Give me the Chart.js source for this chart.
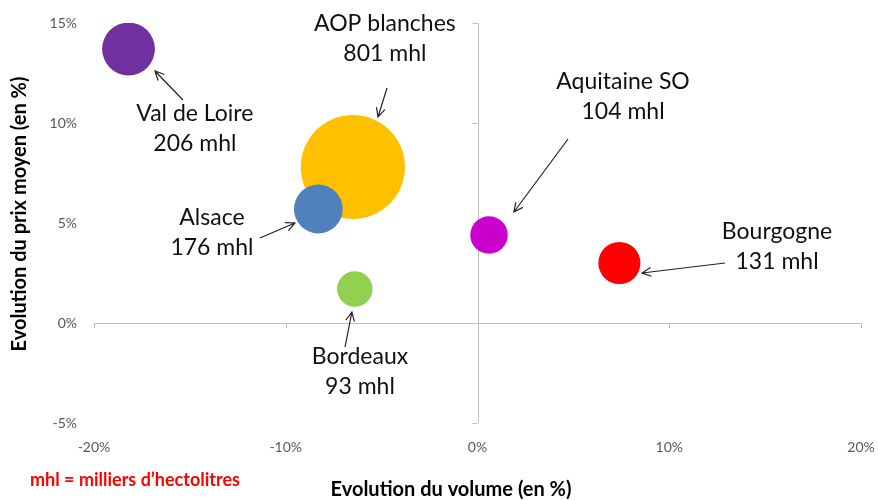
<!DOCTYPE html>
<html>
<head>
<meta charset="utf-8">
<script src="https://cdn.jsdelivr.net/npm/chart.js@4.4.0/dist/chart.umd.min.js"></script>
<style>
  html, body { margin: 0; padding: 0; background: #fff; }
  #wrap { width: 878px; height: 500px; }
</style>
</head>
<body>
<div id="wrap"><canvas id="myChart" width="878" height="500"></canvas></div>
<script>
const regions = ['AOP blanches', 'Val de Loire', 'Alsace', 'Bourgogne', 'Aquitaine SO', 'Bordeaux'];
const volumeChange = [-6.5, -18.2, -8.3, 7.4, 0.6, -6.4];
const priceChange = [7.8, 13.7, 5.7, 3.0, 4.4, 1.7];
const volumes = [801, 206, 176, 131, 104, 93];
const colors = ['#ffc000', '#7030a0', '#4f81bd', '#ff0000', '#cc00cc', '#92d050'];
const xTicks = [-20, -10, 0, 10, 20];
const yTicks = [-5, 0, 5, 10, 15];

// callout placement in axis units: first text line centre, arrow start -> arrow tip
const callouts = [
    { text: [-4.83, 14.95], from: [-4.72, 11.75], to: [-5.19, 10.3] },
    { text: [-14.74, 10.45], from: [-15.36, 11.15], to: [-16.82, 12.6] },
    { text: [-13.85, 5.25], from: [-11.35, 4.25], to: [-9.52, 5.0] },
    { text: [15.62, 4.55], from: [12.91, 3.0], to: [8.58, 2.5] },
    { text: [7.59, 12.05], from: [4.72, 9.2], to: [1.9, 5.55] },
    { text: [-6.13, -1.7], from: [-6.91, -1.2], to: [-6.55, 0.55] }
];

const bubbleScale = 1.84; // px of radius per sqrt(mhl)

const points = regions.map((name, i) => ({
    x: volumeChange[i],
    y: priceChange[i],
    r: bubbleScale * Math.sqrt(volumes[i])
}));

const FONT = 'Lato, "Open Sans", sans-serif';

function arrow(ctx, x1, y1, x2, y2) {
    const a = Math.atan2(y2 - y1, x2 - x1);
    const len = 10, spread = 0.45;
    ctx.beginPath();
    ctx.moveTo(x1, y1);
    ctx.lineTo(x2, y2);
    ctx.moveTo(x2 - len * Math.cos(a - spread), y2 - len * Math.sin(a - spread));
    ctx.lineTo(x2, y2);
    ctx.lineTo(x2 - len * Math.cos(a + spread), y2 - len * Math.sin(a + spread));
    ctx.stroke();
}

const extras = {
    id: 'extras',
    beforeDatasetsDraw(chart) {
        const ctx = chart.ctx;
        const xs = chart.scales.x, ys = chart.scales.y;
        const x0 = xs.getPixelForValue(0), y0 = ys.getPixelForValue(0);
        ctx.save();
        ctx.strokeStyle = '#bfbfbf';
        ctx.lineWidth = 1;
        ctx.beginPath();
        ctx.moveTo(xs.getPixelForValue(-20), Math.round(y0) + 0.5);
        ctx.lineTo(xs.getPixelForValue(20), Math.round(y0) + 0.5);
        ctx.moveTo(Math.round(x0) + 0.5, ys.top);
        ctx.lineTo(Math.round(x0) + 0.5, ys.bottom);
        xTicks.forEach(v => {
            const px = Math.round(xs.getPixelForValue(v)) + 0.5;
            ctx.moveTo(px, y0);
            ctx.lineTo(px, y0 + 5);
        });
        yTicks.forEach(v => {
            const py = Math.round(ys.getPixelForValue(v)) + 0.5;
            ctx.moveTo(x0 - 5, py);
            ctx.lineTo(x0, py);
        });
        ctx.stroke();
        ctx.restore();
    },
    afterDraw(chart) {
        const ctx = chart.ctx;
        const xs = chart.scales.x, ys = chart.scales.y;
        ctx.save();
        // callouts
        ctx.fillStyle = '#111';
        ctx.strokeStyle = '#222';
        ctx.lineWidth = 1.2;
        ctx.font = '23px ' + FONT;
        ctx.textAlign = 'center';
        ctx.textBaseline = 'middle';
        callouts.forEach((c, i) => {
            const tx = xs.getPixelForValue(c.text[0]);
            const ty = ys.getPixelForValue(c.text[1]);
            ctx.fillText(regions[i], tx, ty);
            ctx.fillText(volumes[i] + ' mhl', tx, ty + 30);
            arrow(ctx,
                xs.getPixelForValue(c.from[0]), ys.getPixelForValue(c.from[1]),
                xs.getPixelForValue(c.to[0]), ys.getPixelForValue(c.to[1]));
        });
        // axis titles
        ctx.fillStyle = '#000';
        ctx.font = 'bold 20px ' + FONT;
        ctx.fillText('Evolution du volume (en %)', 451, 490);
        ctx.save();
        ctx.translate(20, 214);
        ctx.rotate(-Math.PI / 2);
        ctx.fillText('Evolution du prix moyen (en %)', 0, 0);
        ctx.restore();
        // footnote
        ctx.fillStyle = '#ff0000';
        ctx.font = 'bold 18px ' + FONT;
        ctx.textAlign = 'left';
        ctx.fillText('mhl = milliers d\u2019hectolitres', 30, 480);
        ctx.restore();
    }
};

new Chart(document.getElementById('myChart'), {
    type: 'bubble',
    data: {
        datasets: [{
            label: 'Vins',
            data: points,
            backgroundColor: colors,
            borderWidth: 0,
            hoverRadius: 0
        }]
    },
    options: {
        responsive: false,
        animation: false,
        events: [],
        layout: { autoPadding: false, padding: { top: 23, right: 17, left: 0, bottom: 0 } },
        plugins: {
            legend: { display: false },
            tooltip: { enabled: false }
        },
        scales: {
            x: {
                type: 'linear',
                min: -20,
                max: 20,
                afterBuildTicks: s => { s.ticks = xTicks.map(v => ({ value: v })); },
                afterFit: s => {
                    s.height = 77;
                    s.paddingLeft = 0;
                    s.paddingRight = 0;
                },
                grid: { display: false },
                border: { display: false },
                ticks: {
                    padding: 8,
                    color: '#595959',
                    font: { family: FONT, size: 14 },
                    callback: v => v + '%'
                }
            },
            y: {
                type: 'linear',
                min: -5,
                max: 15,
                afterBuildTicks: s => { s.ticks = yTicks.map(v => ({ value: v })); },
                afterFit: s => {
                    s.width = 94;
                    s.paddingTop = 0;
                    s.paddingBottom = 0;
                },
                grid: { display: false },
                border: { display: false },
                ticks: {
                    padding: 9,
                    color: '#595959',
                    font: { family: FONT, size: 14 },
                    callback: v => v + '%'
                }
            }
        }
    },
    plugins: [extras]
});
</script>
</body>
</html>
